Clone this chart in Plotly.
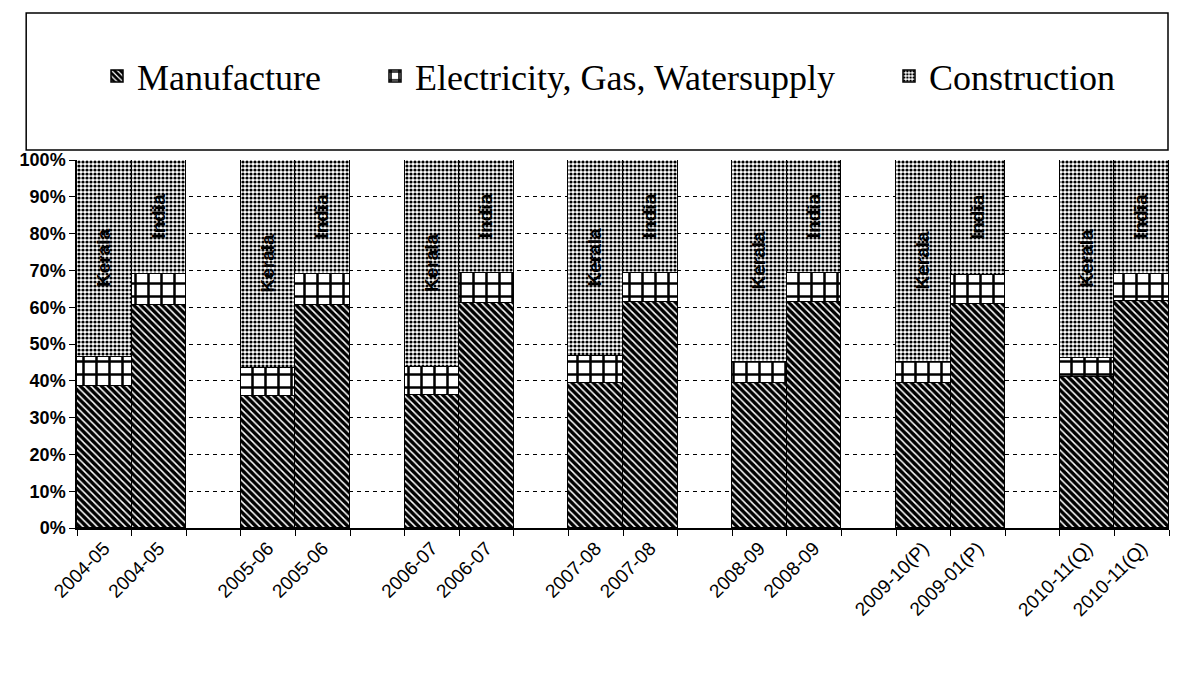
import plotly.graph_objects as go

# Données (parts en %)
years_kerala = ["2004-05", "2005-06", "2006-07", "2007-08", "2008-09", "2009-10(P)", "2010-11(Q)"]
years_india = ["2004-05", "2005-06", "2006-07", "2007-08", "2008-09", "2009-01(P)", "2010-11(Q)"]

kerala_manufacture = [38.5, 36.0, 36.2, 39.5, 39.3, 39.5, 41.0]
kerala_electricity = [8.1, 7.4, 7.5, 7.2, 5.8, 5.7, 5.3]
kerala_construction = [53.4, 56.6, 56.3, 53.3, 54.9, 54.8, 53.7]

india_manufacture = [60.6, 60.5, 61.2, 61.3, 61.3, 60.8, 61.8]
india_electricity = [8.4, 8.4, 8.1, 7.9, 8.1, 7.9, 7.3]
india_construction = [31.0, 31.1, 30.7, 30.8, 30.6, 31.3, 30.9]

regions = ["Kerala", "India"]

# Positions : Kerala, India, puis une case vide entre chaque année
x_pos, tick_text, bar_text = [], [], []
manu, elec, cons = [], [], []
for i in range(len(years_kerala)):
    x_pos += [3 * i, 3 * i + 1]
    tick_text += [years_kerala[i], years_india[i]]
    bar_text += regions
    manu += [kerala_manufacture[i], india_manufacture[i]]
    elec += [kerala_electricity[i], india_electricity[i]]
    cons += [kerala_construction[i], india_construction[i]]

outline = dict(color='black', width=1.5)

traces = [
    go.Bar(name='Manufacture', x=x_pos, y=manu, legend='legend',
           marker=dict(color='black', line=outline,
                       pattern=dict(shape='\\', fgcolor='white', bgcolor='black',
                                    size=5, solidity=0.3, fillmode='replace'))),
    go.Bar(name='Electricity, Gas, Watersupply', x=x_pos, y=elec, legend='legend2',
           marker=dict(color='white', line=outline,
                       pattern=dict(shape='+', fgcolor='black', bgcolor='white',
                                    size=13, solidity=0.35, fillmode='replace'))),
    go.Bar(name='Construction', x=x_pos, y=cons, legend='legend3',
           text=bar_text, textposition='inside', insidetextanchor='middle',
           textangle=-90, constraintext='none',
           textfont=dict(family='Liberation Sans', size=19, color='black', weight='bold'),
           marker=dict(color='white', line=outline,
                       pattern=dict(shape='.', fgcolor='black', bgcolor='white',
                                    size=4, solidity=0.5, fillmode='replace'))),
]

fig = go.Figure(data=traces)

# la page ajoute ~8 px de marge autour de la figure
W, H = 1174, 668
legend_font = dict(family='Liberation Serif', size=36, color='black')
def legend_at(px):
    return dict(xref='container', yref='container', x=px / W, y=1 - 68 / H,
                xanchor='left', yanchor='middle', orientation='h',
                bgcolor='rgba(0,0,0,0)', font=legend_font)

fig.update_layout(
    width=W,
    height=H,
    barmode='stack',
    bargap=0,
    plot_bgcolor='white',
    paper_bgcolor='white',
    showlegend=True,
    legend=legend_at(89),
    legend2=legend_at(367),
    legend3=legend_at(881),
    xaxis=dict(
        range=[-0.5, 3 * len(years_kerala) - 1.5],
        tickmode='array',
        tickvals=x_pos,
        ticktext=tick_text,
        tickangle=-45,
        ticks='',
        showgrid=False,
        showline=True,
        linecolor='black',
        linewidth=1.5,
        tickfont=dict(family='Liberation Sans', size=19, color='black'),
        minor=dict(tick0=0.5, dtick=1, ticks='outside', ticklen=6,
                   tickcolor='black', showgrid=False),
    ),
    yaxis=dict(
        range=[0, 100],
        dtick=10,
        ticksuffix='%',
        ticks='outside',
        ticklen=6,
        tickcolor='black',
        showline=True,
        linecolor='black',
        linewidth=1.5,
        showgrid=True,
        gridcolor='black',
        gridwidth=1,
        griddash='4px,4px',
        zeroline=False,
        tickfont=dict(family='Liberation Sans', size=18, color='black', weight='bold'),
    ),
    shapes=[dict(type='rect', xref='paper', yref='paper',
                 x0=(14 - 65) / 1096, x1=(1160 - 65) / 1096,
                 y0=(520 - 142) / 368, y1=(520 - 5) / 368,
                 line=dict(color='black', width=1.5), fillcolor='rgba(0,0,0,0)')],
    margin=dict(l=65, r=13, t=152, b=148),
)

fig.write_html("out.html")
